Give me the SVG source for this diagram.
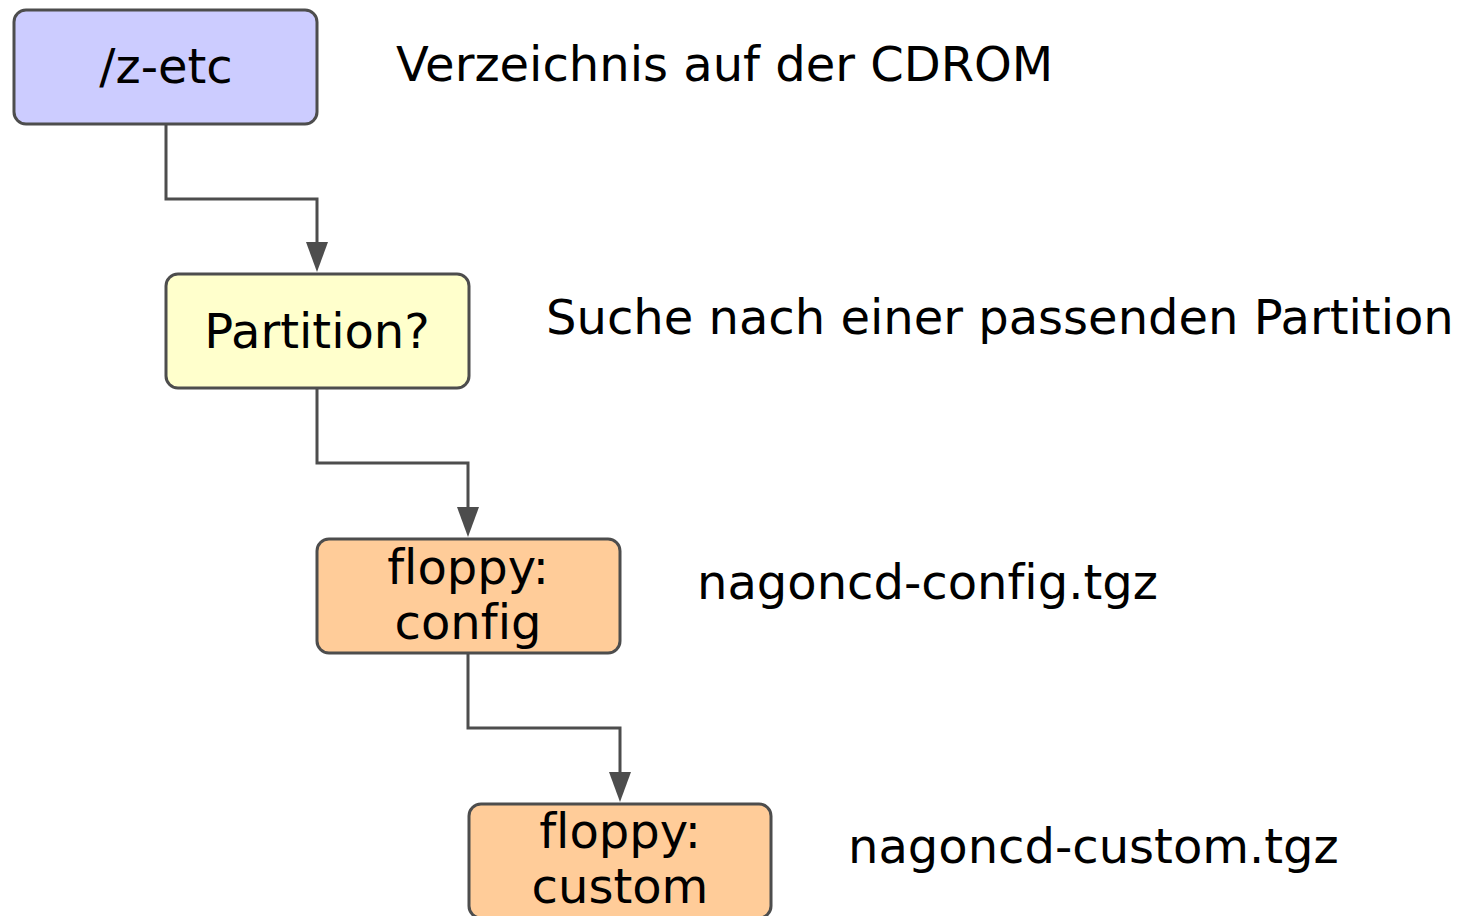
<svg xmlns="http://www.w3.org/2000/svg" width="1459" height="916" viewBox="0 0 1459 916">
<defs>
<style>
.box{stroke:#4d4d4d;stroke-width:3}
.t{font-family:"DejaVu Sans",sans-serif;font-size:48px;fill:#000;font-variant-ligatures:none;font-feature-settings:"liga" 0}
.c{text-anchor:middle}
.edge{fill:none;stroke:#4d4d4d;stroke-width:3}
.ah{fill:#4d4d4d}
</style>
</defs>
<rect width="1459" height="916" fill="#fff"/>
<g id="connectors">
<path class="edge" d="M166,124 V199 H317 V244"/>
<path class="ah" d="M306,242 L328,242 L317,272 Z"/>
<path class="edge" d="M317,388 V463 H468 V509"/>
<path class="ah" d="M457,507 L479,507 L468,537 Z"/>
<path class="edge" d="M468,653 V728 H620 V774"/>
<path class="ah" d="M609,772 L631,772 L620,802 Z"/>
</g>
<g id="n-zetc">
<rect class="box" x="14" y="10" width="303" height="114" rx="12" fill="#ccccff"/>
<text class="t c" x="166" y="83">/z-etc</text>
</g>
<g id="n-partition">
<rect class="box" x="166" y="274" width="303" height="114" rx="12" fill="#ffffcc"/>
<text class="t c" x="317" y="348">Partition?</text>
</g>
<g id="n-config">
<rect class="box" x="317" y="539" width="303" height="114" rx="12" fill="#ffcc99"/>
<text class="t c" x="468" y="584">floppy:</text>
<text class="t c" x="468" y="639">conf&#8204;ig</text>
</g>
<g id="n-custom">
<rect class="box" x="469" y="804" width="302" height="114" rx="12" fill="#ffcc99"/>
<text class="t c" x="620" y="848">floppy:</text>
<text class="t c" x="620" y="903">custom</text>
</g>
<g id="labels">
<text class="t" x="396" y="81">Verzeichnis auf der CDROM</text>
<text class="t" x="546" y="334">Suche nach einer passenden Partition</text>
<text class="t" x="697" y="599">nagoncd-conf&#8204;ig.tgz</text>
<text class="t" x="848" y="863">nagoncd-custom.tgz</text>
</g>
</svg>
